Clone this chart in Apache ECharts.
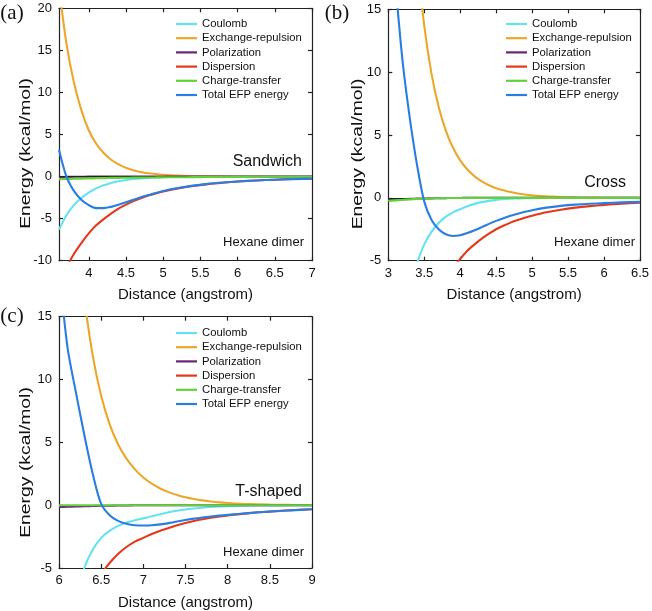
<!DOCTYPE html>
<html><head><meta charset="utf-8">
<script src="https://cdn.jsdelivr.net/npm/echarts@6/dist/echarts.min.js"></script>
<style>html,body{margin:0;padding:0;background:#fff}#c{width:652px;height:611px}</style>
</head><body><div id="c"></div><script>
// ---------- DATA ----------
const seriesNames = ['Coulomb','Exchange-repulsion','Polarization','Dispersion','Charge-transfer','Total EFP energy'];

// Panel (a) Sandwich
const distA = [3.6,3.7,3.8,3.9,4.0,4.1,4.2,4.3,4.4,4.5,4.6,4.7,4.8,4.9,5.0,5.2,5.4,5.6,5.8,6.0,6.25,6.5,6.75,7.0];
const coulombA = [-6.3,-4.6,-3.4,-2.55,-1.9,-1.4,-1.04,-0.76,-0.55,-0.4,-0.29,-0.21,-0.15,-0.11,-0.08,-0.04,-0.02,-0.01,0,0,0,0,0,0];
const exchA = [22.5,15.8,11.2,7.9,5.5,3.9,2.8,2.0,1.45,1.05,0.76,0.55,0.4,0.3,0.22,0.12,0.07,0.04,0.02,0.01,0,0,0,0];
const polA = [-0.06,-0.04,-0.03,-0.02,-0.01,-0.01,0,0,0,0,0,0,0,0,0,0,0,0,0,0,0,0,0,0];
const dispA = [-12.7,-10.8,-9.2,-7.9,-6.75,-5.8,-5.05,-4.4,-3.8,-3.33,-2.92,-2.57,-2.26,-2.0,-1.77,-1.4,-1.12,-0.9,-0.73,-0.59,-0.46,-0.37,-0.29,-0.24];
const ctA = [-0.3,-0.28,-0.26,-0.24,-0.22,-0.2,-0.18,-0.16,-0.15,-0.14,-0.13,-0.12,-0.11,-0.1,-0.09,-0.08,-0.07,-0.06,-0.05,-0.04,-0.03,-0.03,-0.02,-0.02];
const totalA = [3.2,0.0,-1.7,-2.75,-3.4,-3.75,-3.75,-3.6,-3.35,-3.05,-2.75,-2.45,-2.2,-1.95,-1.72,-1.36,-1.08,-0.87,-0.71,-0.58,-0.46,-0.37,-0.3,-0.25];
const xTicksA = [4,4.5,5,5.5,6,6.5,7];

// Panel (b) Cross
const distB = [3.0,3.1,3.2,3.3,3.4,3.5,3.6,3.7,3.8,3.9,4.0,4.1,4.2,4.3,4.4,4.5,4.6,4.7,4.8,4.9,5.0,5.2,5.4,5.6,5.8,6.0,6.25,6.5];
const coulombB = [null,null,-10.5,-7.5,-5.2,-3.7,-2.7,-2.0,-1.5,-1.15,-0.9,-0.66,-0.48,-0.34,-0.24,-0.16,-0.11,-0.07,-0.05,-0.03,-0.02,-0.01,0,0,0,0,0,0];
const exchB = [null,null,null,27,19.3,13.7,9.9,7.25,5.35,3.98,2.98,2.25,1.71,1.31,1.0,0.77,0.6,0.46,0.35,0.27,0.21,0.12,0.07,0.04,0.02,0.01,0,0];
const polB = [-0.14,-0.12,-0.1,-0.08,-0.06,-0.05,-0.04,-0.03,-0.02,-0.01,-0.01,0,0,0,0,0,0,0,0,0,0,0,0,0,0,0,0,0];
const dispB = [null,null,null,null,null,null,null,null,-6.5,-5.6,-4.85,-4.2,-3.7,-3.25,-2.85,-2.5,-2.22,-1.97,-1.76,-1.58,-1.42,-1.15,-0.94,-0.78,-0.66,-0.56,-0.46,-0.38];
const ctB = [-0.25,-0.2,-0.16,-0.12,-0.09,-0.06,-0.04,-0.03,-0.02,-0.01,-0.01,0,0,0,0,0,0,0,0,0,0,0,0,0,0,0,0,0];
const totalB = [24,17,10.8,6.3,2.6,-0.3,-1.75,-2.5,-2.9,-3.03,-2.97,-2.8,-2.58,-2.33,-2.07,-1.83,-1.62,-1.43,-1.26,-1.11,-0.98,-0.78,-0.64,-0.54,-0.47,-0.42,-0.36,-0.32];
const xTicksB = [3,3.5,4,4.5,5,5.5,6,6.5];

// Panel (c) T-shaped
const distC = [6.0,6.1,6.2,6.3,6.4,6.5,6.6,6.7,6.8,6.9,7.0,7.1,7.2,7.3,7.4,7.5,7.6,7.7,7.8,7.9,8.0,8.25,8.5,8.75,9.0];
const coulombC = [null,null,-7.5,-5.0,-3.55,-2.6,-2.05,-1.65,-1.38,-1.2,-1.05,-0.88,-0.72,-0.57,-0.45,-0.35,-0.27,-0.2,-0.15,-0.11,-0.08,-0.04,-0.02,-0.01,0];
const exchC = [null,null,23,16.5,11.9,8.7,6.45,4.85,3.7,2.85,2.2,1.71,1.33,1.04,0.81,0.63,0.49,0.38,0.29,0.22,0.17,0.08,0.04,0.02,0.01];
const polC = [-0.15,-0.13,-0.11,-0.09,-0.07,-0.05,-0.04,-0.03,-0.02,-0.01,0,0,0,0,0,0,0,0,0,0,0,0,0,0,0];
const dispC = [null,null,null,null,-6.6,-5.5,-4.6,-3.88,-3.33,-2.9,-2.6,-2.3,-2.04,-1.81,-1.6,-1.42,-1.26,-1.12,-1.0,-0.9,-0.81,-0.63,-0.5,-0.4,-0.32];
const ctC = [0,0,0,0,0,0,0,0,0,0,0,0,0,0,0,0,0,0,0,0,0,0,0,0,0];
const totalC = [19,12.6,9.0,5.6,2.5,0.1,-0.8,-1.25,-1.48,-1.6,-1.62,-1.6,-1.53,-1.43,-1.3,-1.18,-1.07,-0.98,-0.9,-0.83,-0.77,-0.63,-0.51,-0.41,-0.33];
const xTicksC = [6,6.5,7,7.5,8,8.5,9];

const panelLabels = ['(a)','(b)','(c)'];
const structureLabels = ['Sandwich','Cross','T-shaped'];
const systemLabel = 'Hexane dimer';
const xAxisTitle = 'Distance (angstrom)';
const yAxisTitle = 'Energy (kcal/mol)';

// ---------- STYLE / LAYOUT ----------
const colors = ['#63e3f2','#eba72a','#6a2577','#e2391b','#62d13a','#2a7ee3'];
const SANS = 'Liberation Sans, Arial, Helvetica, sans-serif';
const SERIF = 'Liberation Serif, Times New Roman, serif';
const panels = [
  {grid:{left:59,top:8.3,width:253,height:252.4}, xMin:3.6, xMax:7, yMin:-10, yMax:20, ticks:xTicksA, dist:distA,
   ys:[coulombA,exchA,polA,dispA,ctA,totalA], legend:{left:176,top:18}, lab:{x:12,y:13}, struct:{x:302,y:162}, sys:{x:304,y:242}, yname:{x:25.5,y:153.5}},
  {grid:{left:388.3,top:9.3,width:253.4,height:251.4}, xMin:3, xMax:6.5, yMin:-5, yMax:15, ticks:xTicksB, dist:distB,
   ys:[coulombB,exchB,polB,dispB,ctB,totalB], legend:{left:506,top:18}, lab:{x:337,y:13}, struct:{x:626,y:183}, sys:{x:635,y:242}, yname:{x:358,y:154}},
  {grid:{left:59,top:316.7,width:253,height:252.6}, xMin:6, xMax:9, yMin:-5, yMax:15, ticks:xTicksC, dist:distC,
   ys:[coulombC,exchC,polC,dispC,ctC,totalC], legend:{left:176,top:327}, lab:{x:12,y:316}, struct:{x:302,y:492}, sys:{x:304,y:552}, yname:{x:25.5,y:462.5}}
];

const axisLineStyle = {color:'#222', width:1.2};
const grids = [], xAxes = [], yAxes = [], series = [], legends = [], graphics = [];
panels.forEach((p, pi) => {
  grids.push(Object.assign({containLabel:false}, p.grid));
  xAxes.push({type:'value', gridIndex:pi, position:'bottom', min:p.xMin, max:p.xMax,
    name:xAxisTitle, nameLocation:'middle', nameGap:27,
    nameTextStyle:{fontFamily:SANS, fontSize:15, color:'#111'},
    axisLine:{show:true, onZero:false, lineStyle:axisLineStyle},
    axisTick:{show:true, inside:true, length:4, customValues:p.ticks, lineStyle:axisLineStyle},
    axisLabel:{show:true, customValues:p.ticks, margin:6, fontFamily:SANS, fontSize:13, color:'#111'},
    splitLine:{show:false}});
  xAxes.push({type:'value', gridIndex:pi, position:'top', min:p.xMin, max:p.xMax,
    axisLine:{show:true, onZero:false, lineStyle:axisLineStyle},
    axisTick:{show:true, inside:true, length:4, customValues:p.ticks, lineStyle:axisLineStyle},
    axisLabel:{show:false}, splitLine:{show:false}});
  yAxes.push({type:'value', gridIndex:pi, position:'left', min:p.yMin, max:p.yMax, interval:5,
    axisLine:{show:true, onZero:false, lineStyle:axisLineStyle},
    axisTick:{show:true, inside:true, length:4, lineStyle:axisLineStyle},
    axisLabel:{show:true, margin:7, fontFamily:SANS, fontSize:13, color:'#111'},
    splitLine:{show:false}});
  yAxes.push({type:'value', gridIndex:pi, position:'right', min:p.yMin, max:p.yMax, interval:5,
    axisLine:{show:true, onZero:false, lineStyle:axisLineStyle},
    axisTick:{show:true, inside:true, length:4, lineStyle:axisLineStyle},
    axisLabel:{show:false}, splitLine:{show:false}});
  seriesNames.forEach((nm, si) => {
    const s = {type:'line', name:nm, xAxisIndex:2*pi, yAxisIndex:2*pi,
      data:p.dist.map((x,i)=>[x, p.ys[si][i]]),
      symbol:'none', smooth:0.3, clip:true, connectNulls:false,
      lineStyle:{color:colors[si], width:2.1}, itemStyle:{color:colors[si]}, z:2+si};
    if (si === 2) {
      s.markLine = {silent:true, symbol:'none', label:{show:false},
        lineStyle:{color:'#1a2a10', width:1, type:'solid'}, data:[{yAxis:0}]};
    }
    series.push(s);
  });
  legends.push({orient:'vertical', left:p.legend.left, top:p.legend.top, padding:0,
    icon:'rect', itemWidth:21, itemHeight:2.2, itemGap:2.2, data:seriesNames,
    textStyle:{fontFamily:SANS, fontSize:11.3, lineHeight:12, color:'#111'}});
  graphics.push({type:'text', x:p.lab.x, y:p.lab.y,
    style:{text:panelLabels[pi], font:'21px ' + SERIF, fill:'#111', textAlign:'center', textVerticalAlign:'middle'}});
  graphics.push({type:'text', x:p.struct.x, y:p.struct.y,
    style:{text:structureLabels[pi], font:'16px ' + SANS, fill:'#111', textAlign:'right', textVerticalAlign:'middle'}});
  graphics.push({type:'text', x:p.sys.x, y:p.sys.y,
    style:{text:systemLabel, font:'13px ' + SANS, fill:'#111', textAlign:'right', textVerticalAlign:'middle'}});
  graphics.push({type:'text', x:p.yname.x, y:p.yname.y, rotation:Math.PI/2, scaleX:1.25,
    style:{text:yAxisTitle, font:'15.5px ' + SANS, fill:'#111', textAlign:'center', textVerticalAlign:'middle'}});
});

const chart = echarts.init(document.getElementById('c'), null, {renderer:'canvas'});
chart.setOption({animation:false, backgroundColor:'#fff', grid:grids, xAxis:xAxes, yAxis:yAxes,
  legend:legends, series:series, graphic:graphics});
</script></body></html>
